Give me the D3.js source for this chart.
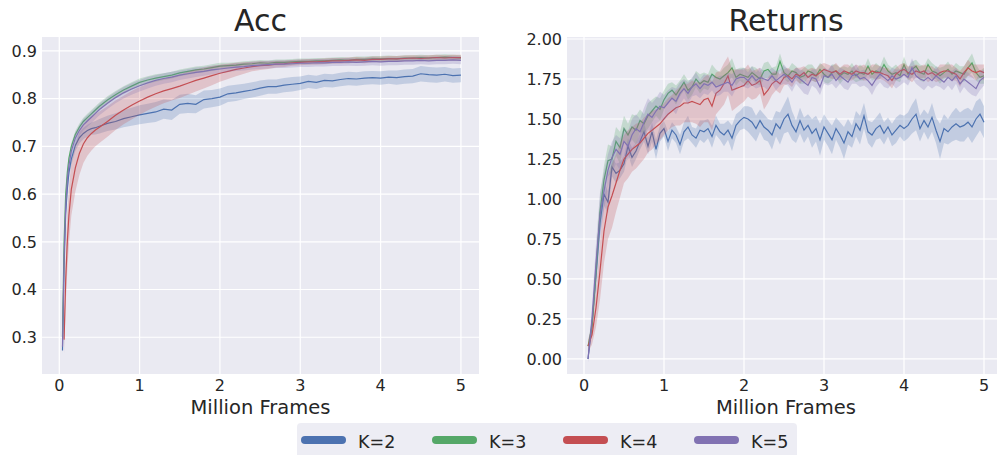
<!DOCTYPE html>
<html>
<head>
<meta charset="utf-8">
<script src="https://cdn.jsdelivr.net/npm/d3@7"></script>
<style>
  body { margin: 0; background: #fff; }
  text { font-family: "DejaVu Sans", sans-serif; fill: #262626; }
</style>
</head>
<body>
<svg id="chart" width="997" height="455"></svg>
<script>
// series names + seaborn "deep" colours
var names = ["K=2", "K=3", "K=4", "K=5"];
var colors = ["#4C72B0", "#55A868", "#C44E52", "#8172B2"];

// ---- Acc panel (million frames) ----
var accX = [0.04,0.06,0.08,0.1,0.12,0.15,0.2,0.25,0.3,0.35,0.4,0.45,0.5,
  0.6,0.7,0.8,0.9,1.0,
  1.1,1.2,1.3,1.4,1.5,1.6,1.7,1.8,1.9,2.0,
  2.1,2.2,2.3,2.4,2.5,2.6,2.7,2.8,2.9,3.0,
  3.1,3.2,3.3,3.4,3.5,3.6,3.7,3.8,3.9,4.0,
  4.1,4.2,4.3,4.4,4.5,4.6,4.7,4.8,4.9,5.0];

var accK2 = [0.272,0.45,0.56,0.61,0.645,0.673,0.702,0.718,0.727,0.733,0.737,0.739,0.742,
  0.748,0.752,0.758,0.762,0.766,
  0.769,0.772,0.778,0.776,0.788,0.790,0.788,0.798,0.800,0.803,
  0.810,0.812,0.815,0.818,0.822,0.825,0.825,0.828,0.830,0.832,
  0.836,0.834,0.838,0.837,0.840,0.842,0.841,0.843,0.844,0.843,
  0.845,0.844,0.846,0.847,0.852,0.850,0.849,0.851,0.848,0.849];
var accK2sd = [0.01,0.012,0.012,0.012,0.012,0.012,0.012,0.012,0.012,0.012,0.013,0.014,0.015,
  0.016,0.017,0.018,0.019,0.02,
  0.02,0.021,0.02,0.021,0.02,0.02,0.019,0.019,0.018,0.018,
  0.017,0.017,0.016,0.016,0.016,0.015,0.015,0.015,0.015,0.014,
  0.014,0.014,0.014,0.014,0.014,0.014,0.014,0.014,0.014,0.014,
  0.014,0.015,0.015,0.015,0.016,0.016,0.016,0.015,0.015,0.015];

var accK3 = [0.30,0.50,0.60,0.645,0.675,0.700,0.725,0.740,0.752,0.760,0.768,0.776,0.784,
  0.797,0.808,0.818,0.826,0.834,
  0.839,0.843,0.846,0.849,0.854,0.857,0.860,0.862,0.865,0.868,
  0.869,0.870,0.872,0.873,0.875,0.874,0.876,0.876,0.877,0.878,
  0.878,0.879,0.879,0.880,0.881,0.880,0.882,0.882,0.883,0.883,
  0.884,0.883,0.885,0.885,0.886,0.885,0.886,0.887,0.886,0.885];
var accK3sd = [0.005,0.006,0.006,0.007,0.007,0.007,0.007,0.008,0.008,0.008,0.008,0.008,0.008,
  0.008,0.008,0.008,0.008,0.008,
  0.008,0.008,0.007,0.007,0.007,0.007,0.007,0.007,0.007,0.007,
  0.006,0.006,0.006,0.006,0.006,0.006,0.006,0.006,0.006,0.006,
  0.006,0.006,0.006,0.006,0.006,0.006,0.006,0.006,0.006,0.006,
  0.006,0.006,0.006,0.006,0.006,0.006,0.006,0.006,0.006,0.006];

var accK4 = [null,0.295,0.42,0.50,0.555,0.61,0.655,0.685,0.705,0.718,0.727,0.734,0.740,
  0.752,0.765,0.776,0.786,0.795,
  0.803,0.810,0.816,0.821,0.826,0.832,0.838,0.843,0.848,0.853,
  0.857,0.861,0.864,0.867,0.869,0.870,0.872,0.873,0.875,0.876,
  0.877,0.877,0.878,0.879,0.879,0.880,0.881,0.880,0.882,0.882,
  0.883,0.883,0.884,0.885,0.884,0.885,0.886,0.885,0.886,0.886];
var accK4sd = [0,0.03,0.05,0.06,0.06,0.055,0.05,0.045,0.04,0.038,0.036,0.034,0.033,
  0.032,0.031,0.030,0.030,0.029,
  0.028,0.027,0.026,0.025,0.025,0.024,0.023,0.022,0.020,0.018,
  0.016,0.014,0.012,0.010,0.009,0.008,0.007,0.007,0.006,0.006,
  0.006,0.006,0.006,0.006,0.006,0.006,0.006,0.006,0.006,0.006,
  0.006,0.006,0.006,0.006,0.006,0.006,0.006,0.006,0.006,0.006];

var accK5 = [0.28,0.47,0.575,0.63,0.66,0.69,0.717,0.733,0.745,0.753,0.761,0.769,0.777,
  0.790,0.802,0.812,0.820,0.827,
  0.833,0.838,0.842,0.845,0.849,0.852,0.855,0.857,0.860,0.862,
  0.864,0.866,0.867,0.869,0.870,0.871,0.872,0.872,0.873,0.874,
  0.874,0.875,0.875,0.876,0.876,0.877,0.876,0.877,0.878,0.877,
  0.878,0.878,0.879,0.879,0.880,0.879,0.880,0.880,0.881,0.880];
var accK5sd = [0.006,0.008,0.009,0.01,0.01,0.01,0.011,0.011,0.012,0.012,0.012,0.012,0.012,
  0.012,0.012,0.012,0.012,0.012,
  0.012,0.011,0.011,0.011,0.010,0.010,0.010,0.009,0.009,0.009,
  0.008,0.008,0.008,0.008,0.008,0.008,0.008,0.008,0.008,0.008,
  0.008,0.008,0.008,0.008,0.008,0.008,0.008,0.008,0.008,0.008,
  0.008,0.008,0.008,0.008,0.008,0.008,0.008,0.008,0.008,0.008];

// ---- Returns panel ----
var retX = [0.05,0.1,0.15,0.2,0.25,0.3,0.35,0.4,0.45,0.5,
  0.55,0.6,0.65,0.7,0.75,0.8,0.85,0.9,0.95,1.0,
  1.05,1.1,1.15,1.2,1.25,1.3,1.35,1.4,1.45,1.5,
  1.55,1.6,1.65,1.7,1.75,1.8,1.85,1.9,1.95,2.0,
  2.05,2.1,2.15,2.2,2.25,2.3,2.35,2.4,2.45,2.5,
  2.55,2.6,2.65,2.7,2.75,2.8,2.85,2.9,2.95,3.0,
  3.05,3.1,3.15,3.2,3.25,3.3,3.35,3.4,3.45,3.5,
  3.55,3.6,3.65,3.7,3.75,3.8,3.85,3.9,3.95,4.0,
  4.05,4.1,4.15,4.2,4.25,4.3,4.35,4.4,4.45,4.5,
  4.55,4.6,4.65,4.7,4.75,4.8,4.85,4.9,4.95,5.0];

var retK2 = [0.00,0.22,0.52,0.85,1.03,0.98,1.20,1.16,1.18,1.22,
  1.33,1.26,1.30,1.36,1.42,1.33,1.42,1.31,1.41,1.44,
  1.36,1.43,1.40,1.34,1.42,1.45,1.40,1.38,1.43,1.42,
  1.44,1.39,1.46,1.42,1.40,1.43,1.38,1.46,1.49,1.51,
  1.50,1.48,1.44,1.49,1.45,1.43,1.40,1.47,1.44,1.50,
  1.53,1.46,1.42,1.49,1.43,1.46,1.41,1.44,1.37,1.45,
  1.41,1.37,1.44,1.40,1.35,1.42,1.39,1.47,1.43,1.52,
  1.42,1.40,1.44,1.46,1.41,1.45,1.40,1.43,1.46,1.44,
  1.46,1.50,1.53,1.44,1.49,1.45,1.51,1.43,1.36,1.44,
  1.42,1.45,1.47,1.45,1.46,1.48,1.45,1.50,1.53,1.48];
var retK2sd = [0.01,0.05,0.08,0.08,0.07,0.07,0.06,0.06,0.05,0.05,
  0.05,0.06,0.05,0.05,0.06,0.05,0.06,0.06,0.05,0.05,
  0.06,0.05,0.05,0.06,0.06,0.07,0.05,0.06,0.06,0.07,
  0.06,0.07,0.06,0.05,0.07,0.06,0.08,0.07,0.06,0.07,
  0.08,0.09,0.08,0.07,0.08,0.07,0.09,0.08,0.10,0.09,
  0.11,0.09,0.07,0.08,0.08,0.07,0.09,0.08,0.10,0.08,
  0.08,0.09,0.07,0.08,0.10,0.08,0.07,0.08,0.09,0.08,
  0.07,0.08,0.07,0.08,0.07,0.06,0.07,0.08,0.07,0.08,
  0.08,0.09,0.10,0.08,0.07,0.08,0.09,0.08,0.11,0.09,
  0.08,0.09,0.10,0.09,0.10,0.09,0.10,0.11,0.10,0.10];

var retK3 = [0.08,0.20,0.55,0.92,1.12,1.24,1.25,1.36,1.32,1.44,
  1.40,1.45,1.43,1.49,1.47,1.52,1.55,1.58,1.56,1.62,
  1.66,1.68,1.65,1.69,1.73,1.68,1.70,1.75,1.72,1.74,
  1.73,1.78,1.76,1.75,1.77,1.79,1.82,1.76,1.78,1.77,
  1.76,1.79,1.77,1.75,1.80,1.81,1.78,1.78,1.86,1.79,
  1.77,1.80,1.79,1.76,1.77,1.80,1.79,1.77,1.81,1.78,
  1.76,1.79,1.80,1.77,1.79,1.78,1.80,1.77,1.79,1.78,
  1.83,1.78,1.80,1.79,1.84,1.80,1.78,1.79,1.77,1.84,
  1.78,1.81,1.83,1.79,1.78,1.84,1.80,1.79,1.77,1.79,
  1.81,1.78,1.80,1.79,1.78,1.82,1.85,1.79,1.76,1.77];
var retK3sd = [0.02,0.05,0.08,0.10,0.09,0.10,0.08,0.09,0.10,0.08,
  0.07,0.08,0.09,0.07,0.06,0.08,0.07,0.06,0.07,0.06,
  0.06,0.05,0.06,0.05,0.05,0.06,0.05,0.05,0.06,0.05,
  0.05,0.06,0.05,0.04,0.05,0.05,0.06,0.05,0.04,0.05,
  0.05,0.04,0.05,0.04,0.05,0.05,0.04,0.05,0.05,0.04,
  0.04,0.05,0.04,0.04,0.05,0.04,0.05,0.04,0.04,0.05,
  0.04,0.05,0.04,0.05,0.04,0.04,0.05,0.04,0.05,0.04,
  0.05,0.04,0.05,0.04,0.05,0.04,0.04,0.05,0.04,0.05,
  0.04,0.05,0.04,0.05,0.05,0.04,0.05,0.04,0.05,0.04,
  0.05,0.04,0.05,0.04,0.05,0.05,0.06,0.05,0.04,0.05];

var retK4 = [0.08,0.15,0.32,0.55,0.80,0.95,1.02,1.10,1.18,1.25,
  1.28,1.31,1.33,1.35,1.38,1.41,1.43,1.45,1.47,1.50,
  1.53,1.55,1.57,1.58,1.60,1.60,1.61,1.60,1.59,1.62,
  1.63,1.58,1.66,1.68,1.72,1.77,1.68,1.69,1.70,1.71,
  1.74,1.71,1.72,1.74,1.65,1.68,1.72,1.74,1.72,1.76,
  1.77,1.75,1.78,1.77,1.79,1.76,1.78,1.77,1.79,1.81,
  1.80,1.79,1.80,1.78,1.80,1.79,1.78,1.80,1.79,1.79,
  1.78,1.80,1.79,1.79,1.78,1.77,1.74,1.78,1.80,1.81,
  1.79,1.78,1.80,1.79,1.80,1.78,1.79,1.77,1.79,1.80,
  1.80,1.79,1.78,1.75,1.79,1.82,1.80,1.79,1.80,1.79];
var retK4sd = [0.04,0.06,0.12,0.18,0.20,0.20,0.20,0.18,0.17,0.15,
  0.15,0.14,0.14,0.13,0.13,0.12,0.12,0.11,0.10,0.10,
  0.10,0.10,0.11,0.12,0.12,0.12,0.13,0.13,0.14,0.14,
  0.15,0.15,0.13,0.12,0.13,0.12,0.13,0.12,0.11,0.10,
  0.10,0.09,0.09,0.08,0.09,0.08,0.07,0.06,0.06,0.05,
  0.05,0.05,0.04,0.05,0.04,0.05,0.04,0.04,0.05,0.04,
  0.04,0.04,0.05,0.04,0.04,0.05,0.04,0.04,0.04,0.05,
  0.04,0.04,0.05,0.04,0.04,0.05,0.05,0.04,0.04,0.04,
  0.04,0.05,0.04,0.04,0.04,0.05,0.04,0.04,0.05,0.04,
  0.04,0.05,0.04,0.05,0.04,0.05,0.04,0.05,0.04,0.05];

var retK5 = [0.00,0.25,0.60,0.90,1.05,1.18,1.26,1.31,1.28,1.36,
  1.33,1.40,1.44,1.42,1.48,1.53,1.51,1.55,1.58,1.57,
  1.60,1.63,1.61,1.66,1.69,1.66,1.70,1.72,1.69,1.72,
  1.71,1.73,1.70,1.71,1.72,1.73,1.71,1.75,1.76,1.76,
  1.74,1.77,1.74,1.76,1.75,1.74,1.77,1.74,1.76,1.78,
  1.76,1.73,1.77,1.75,1.73,1.71,1.76,1.75,1.70,1.77,
  1.76,1.78,1.74,1.77,1.75,1.73,1.77,1.78,1.75,1.76,
  1.74,1.71,1.75,1.78,1.76,1.74,1.77,1.75,1.76,1.78,
  1.76,1.82,1.77,1.75,1.74,1.76,1.74,1.77,1.75,1.73,
  1.76,1.74,1.77,1.72,1.75,1.73,1.71,1.69,1.74,1.76];
var retK5sd = [0.02,0.08,0.12,0.14,0.12,0.10,0.10,0.09,0.10,0.09,
  0.09,0.10,0.09,0.08,0.09,0.10,0.09,0.08,0.09,0.08,
  0.08,0.07,0.08,0.07,0.06,0.07,0.06,0.07,0.06,0.06,
  0.06,0.05,0.06,0.06,0.05,0.06,0.07,0.06,0.05,0.06,
  0.05,0.06,0.05,0.06,0.05,0.06,0.05,0.06,0.05,0.06,
  0.05,0.06,0.05,0.06,0.07,0.06,0.05,0.06,0.05,0.05,
  0.05,0.06,0.05,0.05,0.06,0.05,0.05,0.06,0.05,0.05,
  0.05,0.06,0.05,0.05,0.06,0.05,0.05,0.06,0.05,0.05,
  0.05,0.06,0.05,0.05,0.06,0.05,0.05,0.06,0.05,0.05,
  0.05,0.06,0.05,0.06,0.05,0.06,0.06,0.05,0.06,0.05];

var frameTicks = [0, 1, 2, 3, 4, 5];
var accTicks = [0.3, 0.4, 0.5, 0.6, 0.7, 0.8, 0.9];
var retTicks = [0, 0.25, 0.5, 0.75, 1.0, 1.25, 1.5, 1.75, 2.0];

var svg = d3.select("#chart");

function panel(cfg) {
  var x = d3.scaleLinear().domain(cfg.xDomain).range([cfg.left, cfg.right]);
  var y = d3.scaleLinear().domain(cfg.yDomain).range([cfg.bottom, cfg.top]);
  var g = svg.append("g");

  g.append("clipPath").attr("id", cfg.id + "-clip")
    .append("rect")
    .attr("x", cfg.left).attr("y", cfg.top)
    .attr("width", cfg.right - cfg.left).attr("height", cfg.bottom - cfg.top);

  g.append("rect")
    .attr("x", cfg.left).attr("y", cfg.top)
    .attr("width", cfg.right - cfg.left).attr("height", cfg.bottom - cfg.top)
    .attr("fill", "#EAEAF2");

  // grid
  g.selectAll(".gx").data(frameTicks).enter().append("line")
    .attr("x1", function(d) { return x(d); }).attr("x2", function(d) { return x(d); })
    .attr("y1", cfg.top).attr("y2", cfg.bottom)
    .attr("stroke", "#fff").attr("stroke-width", 1.2);
  g.selectAll(".gy").data(cfg.yTicks).enter().append("line")
    .attr("x1", cfg.left).attr("x2", cfg.right)
    .attr("y1", function(d) { return y(d); }).attr("y2", function(d) { return y(d); })
    .attr("stroke", "#fff").attr("stroke-width", 1.2);

  // tick labels
  g.selectAll(".tx").data(frameTicks).enter().append("text")
    .attr("x", function(d) { return x(d); }).attr("y", cfg.bottom + 17)
    .attr("text-anchor", "middle").style("font-size", "16px")
    .text(function(d) { return d; });
  g.selectAll(".ty").data(cfg.yTicks).enter().append("text")
    .attr("x", cfg.left - 5).attr("y", function(d) { return y(d); })
    .attr("dy", "0.36em").attr("text-anchor", "end").style("font-size", "16px")
    .text(cfg.fmt);

  // bands and lines
  var plot = g.append("g").attr("clip-path", "url(#" + cfg.id + "-clip)");
  cfg.series.forEach(function(s, k) {
    var pts = cfg.xs.map(function(v, i) { return { x: v, m: s.mean[i], sd: s.sd[i] }; })
      .filter(function(p) { return p.m !== null; });
    var area = d3.area()
      .x(function(p) { return x(p.x); })
      .y0(function(p) { return y(p.m - p.sd); })
      .y1(function(p) { return y(p.m + p.sd); });
    var line = d3.line()
      .x(function(p) { return x(p.x); })
      .y(function(p) { return y(p.m); });
    plot.append("path").attr("d", area(pts))
      .attr("fill", colors[k]).attr("fill-opacity", 0.25);
    plot.append("path").attr("d", line(pts))
      .attr("fill", "none").attr("stroke", colors[k]).attr("stroke-width", 1.2);
  });

  g.append("text")
    .attr("x", (cfg.left + cfg.right) / 2).attr("y", 31)
    .attr("text-anchor", "middle").style("font-size", "30px")
    .text(cfg.title);
  g.append("text")
    .attr("x", (cfg.left + cfg.right) / 2).attr("y", 414)
    .attr("text-anchor", "middle").style("font-size", "19.5px")
    .text("Million Frames");
}

panel({
  id: "acc", title: "Acc", left: 42, right: 479, top: 37, bottom: 374,
  xDomain: [-0.215, 5.225], yDomain: [0.223, 0.929],
  yTicks: accTicks, fmt: d3.format(".1f"), xs: accX,
  series: [
    { mean: accK2, sd: accK2sd }, { mean: accK3, sd: accK3sd },
    { mean: accK4, sd: accK4sd }, { mean: accK5, sd: accK5sd }
  ]
});

panel({
  id: "ret", title: "Returns", left: 567, right: 1005, top: 37, bottom: 374,
  xDomain: [-0.2125, 5.2625], yDomain: [-0.094, 2.0125],
  yTicks: retTicks, fmt: d3.format(".2f"), xs: retX,
  series: [
    { mean: retK2, sd: retK2sd }, { mean: retK3, sd: retK3sd },
    { mean: retK4, sd: retK4sd }, { mean: retK5, sd: retK5sd }
  ]
});

// legend
var leg = svg.append("g");
leg.append("rect")
  .attr("x", 297).attr("y", 423).attr("width", 500).attr("height", 40).attr("rx", 4)
  .attr("fill", "#EAEAF2").attr("fill-opacity", 0.85);
names.forEach(function(n, i) {
  var x0 = 305 + i * 131;
  leg.append("line")
    .attr("x1", x0).attr("x2", x0 + 37).attr("y1", 440).attr("y2", 440)
    .attr("stroke", colors[i]).attr("stroke-width", 8).attr("stroke-linecap", "round");
  leg.append("text")
    .attr("x", x0 + 53).attr("y", 448).style("font-size", "17.5px")
    .text(n);
});
</script>
</body>
</html>
